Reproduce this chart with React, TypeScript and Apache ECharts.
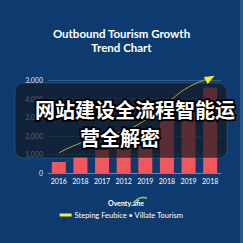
import React, { useEffect, useRef } from "react";
import * as echarts from "echarts";

const categories = ["2016", "2018", "2017", "2012", "2019", "2018", "2019", "2018"];
const barValues = [590, 860, 1240, 1560, 2300, 3300, 3900, 4600];
const lineValues = [1080, 1610, 1940, 2260, 2850, 3760, 4620, 5100];
const yTickLabels = ["0", "1,000", "2,000", "2,000", "4,000", "3,000"];
const titleLines = ["Outbound Tourism Growth", "Trend Chart"];
const overlayLines = ["网站建设全流程智能运", "营全解密"];
const legendName = "Steping Feubice • Villate Tourism";
const logoText = "Oventy.afie";

export default function App() {
  const ref = useRef<HTMLDivElement>(null);
  useEffect(() => {
    document.body.style.margin = "0";
    const chart = echarts.init(ref.current!, null, { renderer: "svg" });
    const last = lineValues.length - 1;
    chart.setOption({
      animation: false,
      backgroundColor: "#0d3b70",
      title: {
        text: titleLines.join("\n"),
        left: "center",
        top: 21,
        textStyle: {
          color: "#ffffff",
          fontFamily: "Lato",
          fontWeight: "bold",
          fontSize: 11.5,
          lineHeight: 14,
          align: "center",
        },
      },
      legend: {
        bottom: 19,
        left: "center",
        icon: "rect",
        itemWidth: 12,
        itemHeight: 3,
        itemGap: 4,
        data: [legendName],
        textStyle: { color: "#ffffff", fontSize: 7.5, fontFamily: "Lato", padding: [0, 0, 0, -2] },
      },
      grid: { left: 48, right: 22, top: 80, bottom: 70 },
      xAxis: {
        type: "category",
        data: categories,
        axisLine: { lineStyle: { color: "rgba(255,255,255,0.25)" } },
        axisTick: { show: false },
        axisLabel: { color: "#ffffff", fontSize: 7, fontFamily: "Lato", margin: 4 },
      },
      yAxis: {
        type: "value",
        min: 0,
        max: 5000,
        interval: 1000,
        axisLine: { show: false },
        axisTick: { show: false },
        splitLine: { lineStyle: { color: "rgba(255,255,255,0.18)" } },
        axisLabel: {
          color: "#dfe5ee",
          fontSize: 7,
          fontFamily: "Lato",
          margin: 5,
          formatter: (v: number) => yTickLabels[Math.round(v / 1000)],
        },
      },
      series: [
        {
          type: "bar",
          data: barValues,
          barWidth: 14,
          itemStyle: { color: "#f2575c" },
          z: 2,
        },
        {
          name: legendName,
          type: "line",
          smooth: true,
          clip: false,
          z: 10,
          itemStyle: { color: "#eef03a" },
          lineStyle: { color: "#b0a83a", width: 1 },
          data: lineValues.map((v, i) =>
            i === last
              ? { value: v, symbol: "triangle", symbolSize: [8, 10], symbolRotate: -62, itemStyle: { color: "#f4f020" } }
              : { value: v, symbol: "none" }
          ),
        },
      ],
      graphic: [
        {
          type: "rect",
          z: 5,
          shape: { x: 15, y: 83, width: 212, height: 75, r: 8 },
          style: { fill: "rgba(18,24,34,0.68)", stroke: "rgba(255,255,255,0.12)", lineWidth: 1 },
        },
        {
          type: "text",
          z: 20,
          x: 135,
          y: 109,
          style: {
            text: overlayLines[0],
            fill: "#ffffff",
            stroke: "#000000",
            lineWidth: 3.5,
            font: "bold 20px 'Noto Sans CJK SC'",
            align: "center",
            verticalAlign: "middle",
          },
        },
        {
          type: "text",
          z: 20,
          x: 120,
          y: 137,
          style: {
            text: overlayLines[1],
            fill: "#ffffff",
            stroke: "#000000",
            lineWidth: 3.5,
            font: "bold 20px 'Noto Sans CJK SC'",
            align: "center",
            verticalAlign: "middle",
          },
        },
        {
          type: "text",
          z: 20,
          x: 126,
          y: 203,
          style: {
            text: logoText,
            fill: "#ffffff",
            font: "bold 7px Lato",
            align: "center",
            verticalAlign: "middle",
          },
        },
        {
          type: "bezierCurve",
          z: 20,
          shape: { x1: 134, y1: 202, x2: 147, y2: 198, cpx1: 140, cpy1: 196 },
          style: { stroke: "#8dd63a", lineWidth: 1.5, fill: "none" },
        },
        {
          type: "rect",
          z: 1,
          shape: { x: 240, y: 0, width: 3, height: 243 },
          style: { fill: "#2a5686" },
        },
      ],
    });
    return () => chart.dispose();
  }, []);
  return <div ref={ref} style={{ width: 243, height: 243 }} />;
}
